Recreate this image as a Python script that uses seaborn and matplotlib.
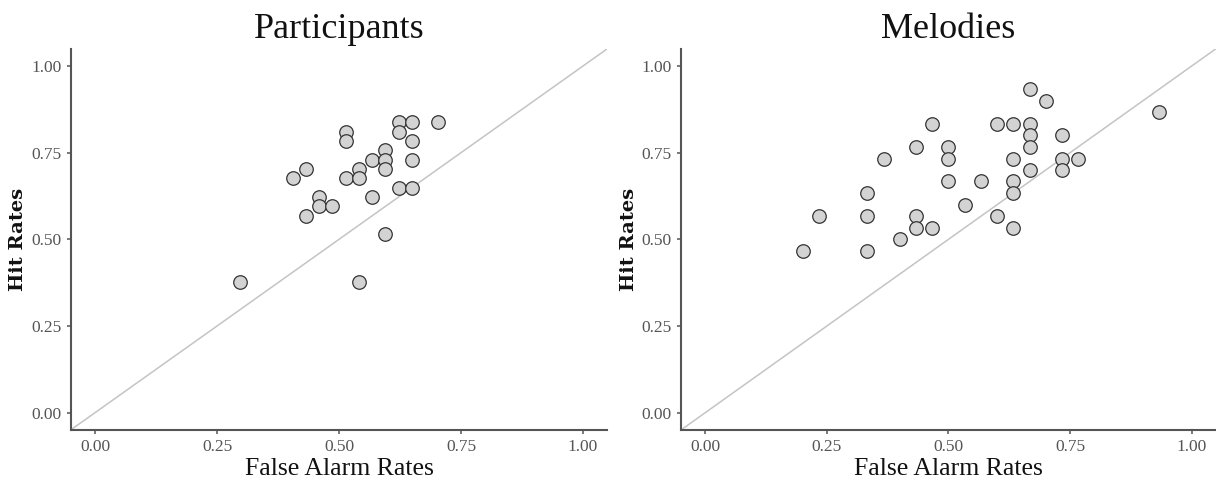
import matplotlib
matplotlib.use("Agg")
import matplotlib.pyplot as plt
import seaborn as sns
import pandas as pd

# Participants panel (False Alarm Rate, Hit Rate)
part_fa = [0.297, 0.405, 0.432, 0.432, 0.459, 0.459, 0.486, 0.514, 0.514, 0.514,
           0.541, 0.541, 0.541, 0.568, 0.568, 0.595, 0.595, 0.595, 0.595,
           0.622, 0.622, 0.622, 0.649, 0.649, 0.649, 0.649, 0.703]
part_hit = [0.378, 0.676, 0.703, 0.568, 0.622, 0.595, 0.595, 0.811, 0.784, 0.676,
            0.703, 0.676, 0.378, 0.730, 0.622, 0.757, 0.730, 0.703, 0.514,
            0.838, 0.811, 0.649, 0.838, 0.784, 0.730, 0.649, 0.838]

# Melodies panel
mel_fa = [0.200, 0.233, 0.333, 0.333, 0.333, 0.367, 0.400, 0.433, 0.433, 0.433,
          0.467, 0.467, 0.500, 0.500, 0.500, 0.533, 0.567, 0.600, 0.600,
          0.633, 0.633, 0.633, 0.633, 0.633, 0.667, 0.667, 0.667, 0.667, 0.667,
          0.700, 0.733, 0.733, 0.733, 0.767, 0.933]
mel_hit = [0.467, 0.567, 0.633, 0.567, 0.467, 0.733, 0.500, 0.767, 0.567, 0.533,
           0.833, 0.533, 0.767, 0.733, 0.667, 0.600, 0.667, 0.833, 0.567,
           0.833, 0.733, 0.667, 0.633, 0.533, 0.933, 0.833, 0.800, 0.767, 0.700,
           0.900, 0.800, 0.733, 0.700, 0.733, 0.867]

titles = ["Participants", "Melodies"]
ticks = [0.0, 0.25, 0.5, 0.75, 1.0]
tick_labels = ["0.00", "0.25", "0.50", "0.75", "1.00"]
x_label = "False Alarm Rates"
y_label = "Hit Rates"

sns.set_style("ticks")
plt.rcParams['font.family'] = ['Liberation Serif', 'DejaVu Serif']

fig = plt.figure(figsize=(12.16, 4.82), dpi=100)
axes_rects = [[0.0581, 0.1079, 0.4414, 0.7911],
              [0.5600, 0.1079, 0.4400, 0.7911]]

datasets = [pd.DataFrame({"fa": part_fa, "hit": part_hit}),
            pd.DataFrame({"fa": mel_fa, "hit": mel_hit})]

axis_col = "#555555"
for rect, df, title in zip(axes_rects, datasets, titles):
    ax = fig.add_axes(rect)
    ax.axline((0, 0), slope=1, color="#c4c4c4", lw=1.1, zorder=1)
    sns.scatterplot(data=df, x="fa", y="hit", ax=ax, s=95,
                    color="#d3d3d3", edgecolor="#333333", linewidth=0.9,
                    zorder=3, legend=False)
    ax.set_xlim(-0.05, 1.05)
    ax.set_ylim(-0.05, 1.05)
    ax.set_xticks(ticks)
    ax.set_xticklabels(tick_labels)
    ax.set_yticks(ticks)
    ax.set_yticklabels(tick_labels)
    sns.despine(ax=ax)
    for side in ["left", "bottom"]:
        ax.spines[side].set_color(axis_col)
        ax.spines[side].set_linewidth(1.5)
    ax.tick_params(axis="both", colors=axis_col, length=3, width=1.1,
                   labelsize=12.5, labelcolor="#555555", pad=3.5)
    ax.set_title(title, fontsize=26, color="#111111", pad=8)
    ax.set_xlabel(x_label, fontsize=18.5, color="#111111", labelpad=2)
    ax.set_ylabel(y_label, fontsize=14, color="#111111", labelpad=3,
                  fontfamily="DejaVu Serif", fontweight="bold")

fig.savefig("out.png", dpi=100)
